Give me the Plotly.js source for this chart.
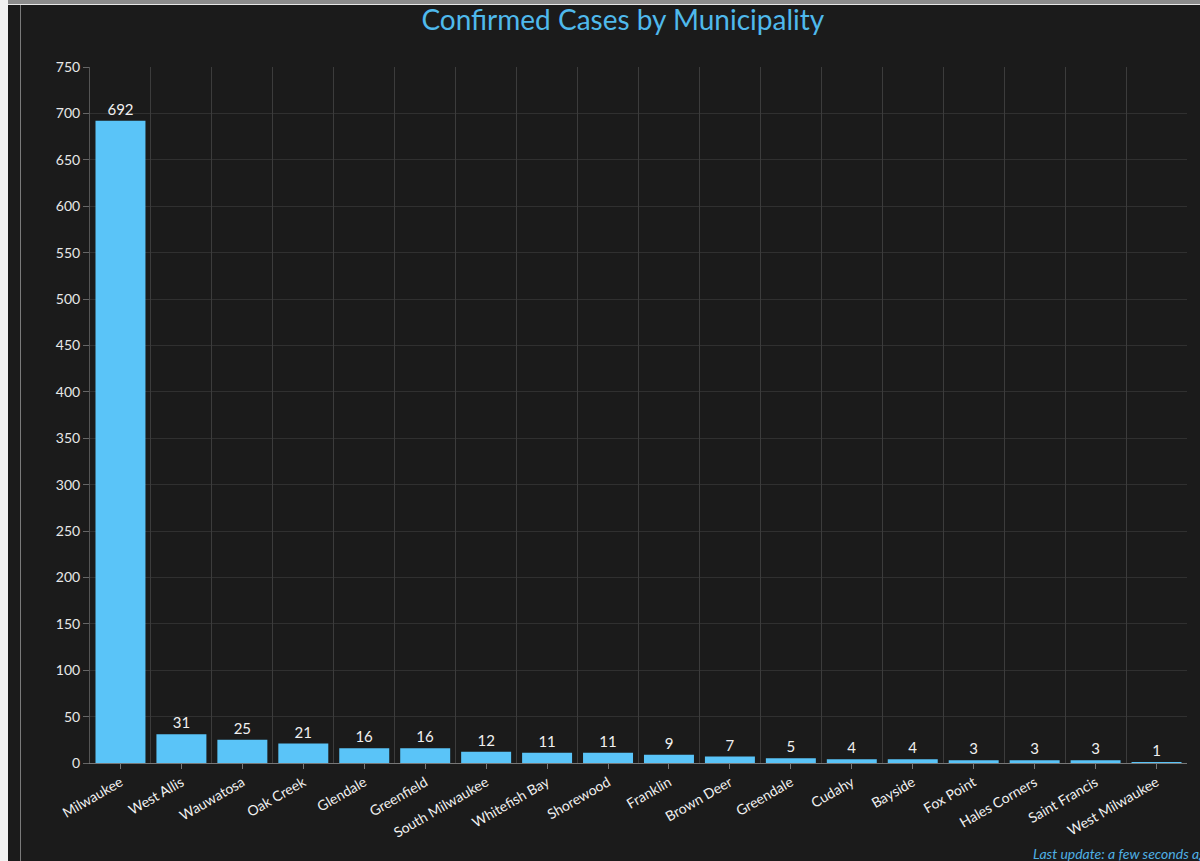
<!DOCTYPE html>
<html>
<head>
<meta charset="utf-8">
<script src="https://cdn.plot.ly/plotly-3.0.1.min.js"></script>
<style>
html,body{margin:0;padding:0;background:#1b1b1b;width:1200px;height:861px;overflow:hidden;}
#chart{position:absolute;left:0;top:0;width:1200px;height:861px;}
.ov{position:absolute;pointer-events:none;}
</style>
</head>
<body>
<div id="chart"></div>
<div class="ov" style="left:0;top:0;width:1200px;height:4px;background:#8c8c8c;"></div>
<div class="ov" style="left:0;top:4px;width:1200px;height:1px;background:#e8e8e8;"></div>
<div class="ov" style="left:0;top:0;width:8px;height:861px;background:#f2f2f2;"></div>
<div class="ov" style="left:20px;top:5px;width:1px;height:856px;background:#7a7a7a;"></div>
<script>
const municipalities = ["Milwaukee","West Allis","Wauwatosa","Oak Creek","Glendale","Greenfield","South Milwaukee","Whitefish Bay","Shorewood","Franklin","Brown Deer","Greendale","Cudahy","Bayside","Fox Point","Hales Corners","Saint Francis","West Milwaukee"];
const confirmedCases = [692,31,25,21,16,16,12,11,11,9,7,5,4,4,3,3,3,1];
const chartTitle = "Confirmed Cases by Municipality";
const footnote = "Last update: a few seconds ago";

const font = "Lato, 'Open Sans', sans-serif";

const data = [
  {
    // invisible helper on the overlay axis, only to draw grid lines at category boundaries
    type: "bar",
    x: municipalities,
    y: confirmedCases,
    xaxis: "x2",
    marker: {color: "rgba(0,0,0,0)"},
    hoverinfo: "skip"
  },
  {
    type: "bar",
    x: municipalities,
    y: confirmedCases,
    marker: {color: "#5ac4f8"},
    texttemplate: "%{y}",
    textposition: "outside",
    textfont: {color: "#f0f0f0", size: 15, family: font},
    cliponaxis: false,
    hoverinfo: "x+y"
  }
];

const layout = {
  width: 1200, height: 861,
  paper_bgcolor: "#1b1b1b",
  plot_bgcolor: "#1b1b1b",
  margin: {l: 90, r: 13, t: 67, b: 98},
  bargap: 0.18,
  barmode: "overlay",
  showlegend: false,
  title: {
    text: chartTitle,
    font: {family: font, size: 28, color: "#4fb9ec"},
    x: 0.519, xref: "container", xanchor: "center",
    y: 0.976, yref: "container", yanchor: "middle"
  },
  xaxis: {
    type: "category",
    tickangle: -30,
    tickfont: {family: font, size: 14, color: "#f0f0f0"},
    ticks: "outside", ticklen: 5, tickcolor: "#777",
    showgrid: false,
    showline: true, linecolor: "#777", linewidth: 1,
    automargin: false
  },
  xaxis2: {
    type: "category",
    overlaying: "x",
    side: "bottom",
    tickson: "boundaries",
    showgrid: true, gridcolor: "#3c3c3c", gridwidth: 1,
    showticklabels: false, ticks: "", zeroline: false,
    showline: false
  },
  yaxis: {
    range: [0, 750],
    dtick: 50,
    tickfont: {family: font, size: 14, color: "#e8e8e8"},
    ticks: "outside", ticklen: 6, tickcolor: "#666",
    gridcolor: "#303030", gridwidth: 1,
    showline: true, linecolor: "#555", linewidth: 1,
    zeroline: false,
    automargin: false
  },
  annotations: [{
    text: "<i>" + footnote + "</i>",
    xref: "paper", yref: "paper",
    x: 0.858, y: -0.13,
    xanchor: "left", yanchor: "middle",
    showarrow: false,
    font: {family: font, size: 14, color: "#4fb0e4"}
  }]
};

Plotly.newPlot("chart", data, layout, {displayModeBar: false, staticPlot: true});
</script>
</body>
</html>
